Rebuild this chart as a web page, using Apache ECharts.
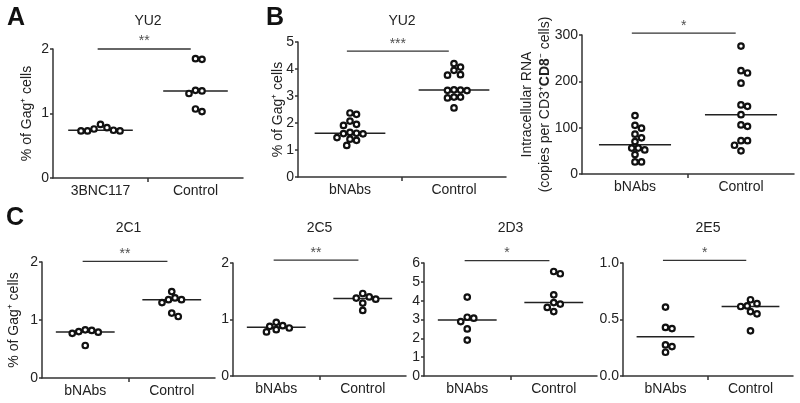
<!DOCTYPE html>
<html><head><meta charset="utf-8">
<script src="https://cdn.jsdelivr.net/npm/echarts@6/dist/echarts.min.js"></script>
<style>html,body{margin:0;padding:0;background:#fff}#c{width:800px;height:403px}</style>
</head><body><div id="c"></div>
<script>
// ---------------- data ----------------
const groupsA = ['3BNC117', 'Control'];
const groupsBC = ['bNAbs', 'Control'];
const panelTitles = ['YU2', 'YU2', '', '2C1', '2C5', '2D3', '2E5'];
const sigStars = ['**', '***', '*', '**', '**', '*', '*'];

const yu2A_3BNC117 = [0.78, 0.74, 0.73, 0.83, 0.73, 0.73, 0.76];
const yu2A_control = [1.84, 1.85, 1.35, 1.31, 1.36, 1.03, 1.07];
const yu2B_bNAbs = [2.37, 2.32, 2.07, 1.91, 1.95, 1.60, 1.61, 1.62, 1.65, 1.46, 1.40, 1.36, 1.17];
const yu2B_control = [4.20, 4.07, 3.95, 3.79, 3.77, 3.21, 3.20, 3.22, 3.23, 2.96, 2.93, 2.96, 2.56];
const rna_bNAbs = [126, 99, 105, 86, 78, 70, 56, 56, 52, 42, 26, 26];
const rna_control = [276, 218, 223, 196, 146, 149, 128, 103, 106, 72, 72, 62, 50];
const c2C1_bNAbs = [0.82, 0.79, 0.77, 0.80, 0.83, 0.56];
const c2C1_control = [1.49, 1.38, 1.35, 1.30, 1.35, 1.12, 1.06];
const c2C5_bNAbs = [0.89, 0.85, 0.88, 0.95, 0.78, 0.82];
const c2C5_control = [1.46, 1.40, 1.36, 1.38, 1.29, 1.16];
const c2D3_bNAbs = [4.19, 3.12, 3.07, 2.89, 2.50, 1.91];
const c2D3_control = [5.55, 5.43, 4.31, 3.90, 3.82, 3.64, 3.42];
const c2E5_bNAbs = [0.61, 0.42, 0.43, 0.275, 0.26, 0.21];
const c2E5_control = [0.675, 0.64, 0.615, 0.62, 0.57, 0.55, 0.40];

// y axis ranges / tick intervals
const yMax = [2, 5, 300, 2, 2, 6, 1];
const yInterval = [1, 1, 100, 1, 1, 1, 0.5];
// significance bar height (value units)
const sigLevel = [2.0, 4.66, 304, 2.01, 2.05, 6.13, 1.024];

// ---------------- layout ----------------
const grids = [
  {left: 53, top: 49, width: 190, height: 129},
  {left: 298, top: 42, width: 208, height: 135},
  {left: 582, top: 35, width: 212, height: 139},
  {left: 42, top: 262, width: 173, height: 116},
  {left: 233, top: 263, width: 173, height: 113},
  {left: 424, top: 263, width: 173, height: 113},
  {left: 623, top: 263, width: 170, height: 113}
];
const panels = [
  {cats: groupsA, g: [yu2A_3BNC117, yu2A_control], yName: '% of Gag\u207A cells', nameGap: 17},
  {cats: groupsBC, g: [yu2B_bNAbs, yu2B_control], yName: '% of Gag\u207A cells', nameGap: 11},
  {cats: groupsBC, g: [rna_bNAbs, rna_control], yName: 'Intracellular RNA\n(copies per CD3\u207A{b|CD8}\u207B cells)', nameGap: 28},
  {cats: groupsBC, g: [c2C1_bNAbs, c2C1_control], yName: '% of Gag\u207A cells', nameGap: 19},
  {cats: groupsBC, g: [c2C5_bNAbs, c2C5_control], yName: ''},
  {cats: groupsBC, g: [c2D3_bNAbs, c2D3_control], yName: ''},
  {cats: groupsBC, g: [c2E5_bNAbs, c2E5_control], yName: ''}
];

const FONT = 'Liberation Sans, Arial, Helvetica, sans-serif';
const INK = '#222';
const AXC = '#333';
const DOT = 6.5;   // collision distance between marker centres (px)

function median(a) {
  const s = a.slice().sort((x, y) => x - y);
  const n = s.length;
  return n % 2 ? s[(n - 1) / 2] : (s[n / 2 - 1] + s[n / 2]) / 2;
}

// simple beeswarm: spread points horizontally so they don't overlap
function swarm(values, center, pxPerY, pxPerX) {
  const order = values.map((v, i) => i).sort((a, b) => values[b] - values[a]);
  const placed = [];
  const out = new Array(values.length);
  const step = DOT / 2;
  for (const i of order) {
    const py = values[i] * pxPerY;
    let chosen = 0;
    for (let k = 0; k < 60; k++) {
      const off = k === 0 ? 0 : (k % 2 ? 1 : -1) * Math.ceil(k / 2) * step;
      if (placed.every(p => Math.hypot(p.x - off, p.y - py) >= DOT)) { chosen = off; break; }
    }
    placed.push({x: chosen, y: py});
    out[i] = [center + chosen / pxPerX, values[i]];
  }
  return out;
}

const option = {
  animation: false,
  backgroundColor: '#fff',
  textStyle: {fontFamily: FONT},
  title: [],
  grid: grids,
  xAxis: [], yAxis: [], series: [],
  graphic: [
    {type: 'text', left: 7, top: 6, style: {text: 'A', font: 'bold 25px ' + FONT, fill: '#111'}},
    {type: 'text', left: 266, top: 6, style: {text: 'B', font: 'bold 25px ' + FONT, fill: '#111'}},
    {type: 'text', left: 6, top: 206, style: {text: 'C', font: 'bold 25px ' + FONT, fill: '#111'}}
  ]
};

panels.forEach((p, i) => {
  const gr = grids[i];
  const pxPerY = gr.height / yMax[i];
  const pxPerX = gr.width / 2;
  if (panelTitles[i]) {
    option.title.push({
      text: panelTitles[i], left: gr.left + gr.width / 2, top: i < 3 ? 14 : 221, textAlign: 'center',
      padding: 0,
      textStyle: {fontFamily: FONT, fontSize: 14, fontWeight: 'normal', color: INK}
    });
  }
  option.xAxis.push({
    type: 'value', gridIndex: i, min: 0, max: 2,
    axisLine: {show: true, lineStyle: {color: AXC, width: 1.5}},
    splitLine: {show: false},
    axisTick: {show: true, customValues: [1], length: 4, lineStyle: {color: AXC, width: 1.5}},
    axisLabel: {
      show: true, customValues: [0.5, 1.5], margin: 6,
      formatter: v => (v < 1 ? p.cats[0] : p.cats[1]),
      fontFamily: FONT, fontSize: 14, color: INK
    }
  });
  option.yAxis.push({
    type: 'value', gridIndex: i, min: 0, max: yMax[i], interval: yInterval[i],
    axisLine: {show: true, lineStyle: {color: AXC, width: 1.5}},
    splitLine: {show: false},
    axisTick: {show: true, length: 3, lineStyle: {color: AXC, width: 1.5}},
    axisLabel: {
      margin: 4, fontFamily: FONT, fontSize: 14, color: INK,
      formatter: v => (yInterval[i] < 1 ? v.toFixed(1) : String(v))
    },
    name: p.yName, nameLocation: 'middle', nameGap: p.nameGap || 20,
    nameMoveOverlap: false,
    nameTextStyle: {
      fontFamily: FONT, fontSize: 14, color: INK, lineHeight: 18,
      rich: {b: {fontFamily: FONT, fontSize: 14, fontWeight: 'bold', color: INK}}
    }
  });
  // median lines
  p.g.forEach((vals, gi) => {
    const c = gi + 0.5;
    const m = median(vals);
    option.series.push({
      type: 'line', xAxisIndex: i, yAxisIndex: i, symbol: 'none', silent: true,
      data: [[c - 0.34, m], [c + 0.34, m]],
      lineStyle: {color: INK, width: 1.5}, z: 2
    });
  });
  // points
  p.g.forEach((vals, gi) => {
    option.series.push({
      type: 'scatter', xAxisIndex: i, yAxisIndex: i,
      data: swarm(vals, gi + 0.5, pxPerY, pxPerX),
      symbol: 'circle', symbolSize: 5.5,
      itemStyle: {color: '#fff', borderColor: '#111', borderWidth: 2.2, opacity: 1},
      z: 3
    });
  });
  // significance bar
  option.series.push({
    type: 'line', xAxisIndex: i, yAxisIndex: i, symbol: 'none', silent: true, clip: false,
    data: [[0.47, sigLevel[i]], [1.45, sigLevel[i]]],
    lineStyle: {color: AXC, width: 1.3}, z: 2
  });
  option.series.push({
    type: 'scatter', xAxisIndex: i, yAxisIndex: i, symbolSize: 1, silent: true, clip: false,
    itemStyle: {color: 'rgba(0,0,0,0)'},
    data: [[0.96, sigLevel[i]]],
    label: {show: true, position: 'top', distance: 0, formatter: sigStars[i],
      fontFamily: FONT, fontSize: 14, color: INK}
  });
});

const chart = echarts.init(document.getElementById('c'), null, {renderer: 'canvas'});
chart.setOption(option);
</script>
</body></html>
